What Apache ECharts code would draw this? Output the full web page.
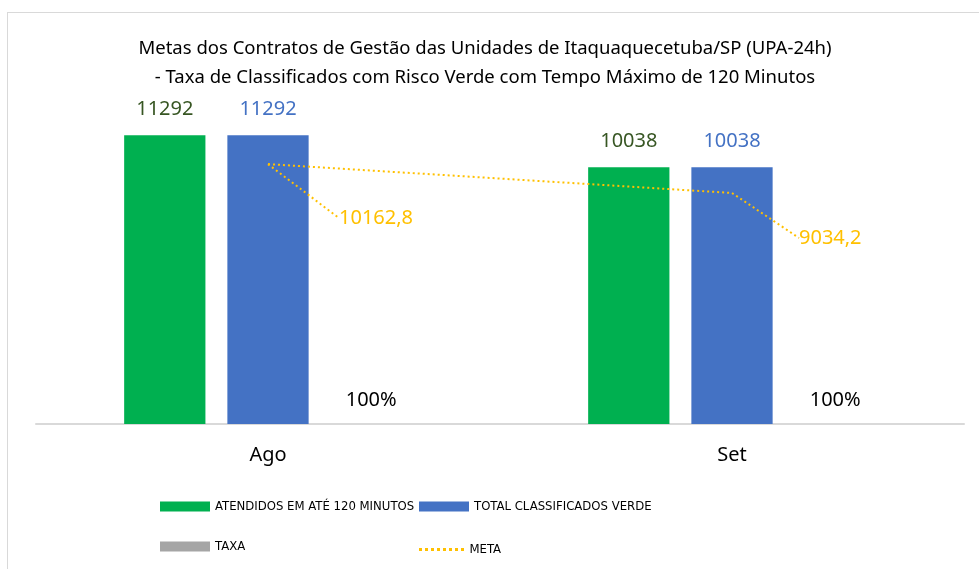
<!DOCTYPE html>
<html>
<head>
<meta charset="utf-8">
<script src="https://cdn.jsdelivr.net/npm/echarts@6/dist/echarts.min.js"></script>
<style>
  html, body { margin: 0; padding: 0; background: #fff; }
  #frame { position: absolute; left: 7px; top: 12px; width: 1000px; height: 600px;
           border-left: 1px solid #d9d9d9; border-top: 1px solid #d9d9d9; }
  #chart { position: absolute; left: 0; top: 0; width: 979px; height: 569px; }
</style>
</head>
<body>
<div id="frame"></div>
<div id="chart"></div>
<script>
var categories = ['Ago', 'Set'];
var atendidos = [11292, 10038];
var totalVerde = [11292, 10038];
var taxa = [1, 1];
var meta = [10162.8, 9034.2];

(function() {
  var green = '#00B050';
  var blue = '#4472C4';
  var gray = '#A5A5A5';
  var gold = '#FFC000';
  var ink = '#000000';
  var font = 'Noto Sans';
  var narrow = '"Liberation Sans Narrow", "DejaVu Sans Condensed", "Noto Sans"';

  var chart = echarts.init(document.getElementById('chart'), null, { renderer: 'canvas' });

  function legendAt(name, left, top, icon, w, h) {
    return {
      data: [{ name: name, icon: icon }],
      left: left,
      top: top,
      itemWidth: w,
      itemHeight: h,
      itemGap: 0,
      textStyle: { color: ink, fontSize: 13, fontFamily: narrow },
      selectedMode: false
    };
  }

  chart.setOption({
    animation: false,
    title: {
      text: 'Metas dos Contratos de Gestão das Unidades de Itaquaquecetuba/SP (UPA-24h)\n- Taxa de Classificados com Risco Verde com Tempo Máximo de 120 Minutos',
      left: 480,
      textAlign: 'center',
      top: 29,
      textStyle: { color: ink, fontSize: 18.5, fontWeight: 'normal', fontFamily: font, lineHeight: 29 }
    },
    legend: [
      legendAt('ATENDIDOS EM ATÉ 120 MINUTOS', 155, 495, 'rect', 50, 10),
      legendAt('TOTAL CLASSIFICADOS VERDE', 414, 495, 'rect', 50, 10),
      legendAt('TAXA', 155, 535, 'rect', 50, 10),
      {
        data: [{ name: 'META', icon: 'path://M0,0 L3,0 L3,3 L0,3 Z M6,0 L9,0 L9,3 L6,3 Z M12,0 L15,0 L15,3 L12,3 Z M18,0 L21,0 L21,3 L18,3 Z M24,0 L27,0 L27,3 L24,3 Z M30,0 L33,0 L33,3 L30,3 Z M36,0 L39,0 L39,3 L36,3 Z M42,0 L45,0 L45,3 L42,3 Z', itemStyle: { color: gold, opacity: 1 } }],
        left: 414,
        top: 538,
        itemWidth: 46,
        itemHeight: 3,
        itemGap: 0,
        textStyle: { color: ink, fontSize: 13, fontFamily: narrow },
        selectedMode: false
      }
    ],
    grid: { left: 36, right: 15, top: 66, bottom: 145 },
    xAxis: {
      type: 'category',
      data: categories,
      axisLine: { lineStyle: { color: '#d9d9d9', width: 2 } },
      axisTick: { show: false },
      axisLabel: { color: ink, fontSize: 20, fontFamily: font, margin: 21 }
    },
    yAxis: {
      type: 'value',
      min: 0,
      max: 14000,
      show: false,
      splitLine: { show: false }
    },
    series: [
      {
        name: 'ATENDIDOS EM ATÉ 120 MINUTOS',
        type: 'bar',
        data: atendidos,
        barGap: '27%',
        barCategoryGap: '38%',
        itemStyle: { color: green },
        label: { show: true, position: 'top', distance: 16, color: '#375623', fontSize: 20, fontFamily: font }
      },
      {
        name: 'TOTAL CLASSIFICADOS VERDE',
        type: 'bar',
        data: totalVerde,
        itemStyle: { color: blue },
        label: { show: true, position: 'top', distance: 16, color: blue, fontSize: 20, fontFamily: font }
      },
      {
        name: 'TAXA',
        type: 'bar',
        data: taxa,
        itemStyle: { color: gray },
        label: {
          show: true, position: 'top', distance: 14, color: ink, fontSize: 20, fontFamily: font,
          formatter: function(p) { return (p.value * 100) + '%'; }
        }
      },
      {
        name: 'META',
        type: 'line',
        data: meta,
        symbol: 'circle',
        symbolSize: 0,
        showSymbol: true,
        lineStyle: { color: gold, width: 2, type: [2, 3] },
        itemStyle: { color: gold },
        label: {
          show: true, position: 'right', color: gold, fontSize: 20, fontFamily: font,
          formatter: function(p) { return String(p.value).replace('.', ','); }
        },
        // rótulos deslocados como no original (com linha de chamada)
        labelLayout: function(p) {
          return p.dataIndex === 0 ? { dx: 66, dy: 54 } : { dx: 62, dy: 45 };
        },
        labelLine: { show: true, lineStyle: { color: gold, width: 2, type: [2, 3] } }
      }
    ]
  });
  window.addEventListener('resize', function() { chart.resize(); });
})();
</script>
</body>
</html>
